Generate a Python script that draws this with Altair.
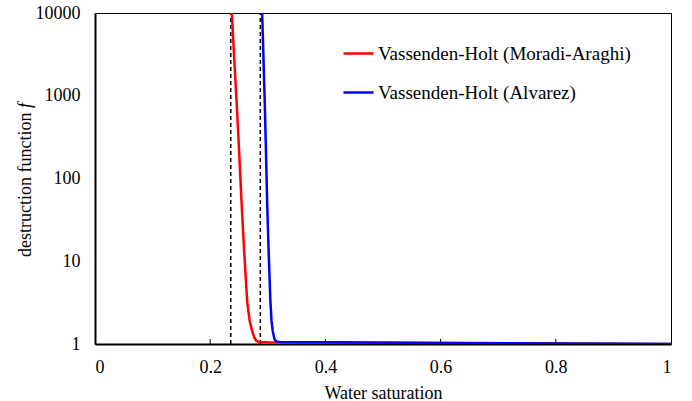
import altair as alt
import pandas as pd

# Red: Vassenden-Holt (Moradi-Araghi)
red_sw = [0.2375, 0.2415, 0.2457, 0.2500, 0.2543, 0.2590, 0.2642, 0.2685, 0.2728, 0.2765, 0.2803, 0.2850, 0.3000, 0.4, 0.6, 0.8, 1.0]
red_f = [10000, 3000, 881, 230, 54, 13, 3.3, 1.9, 1.44, 1.2, 1.09, 1.06, 1.05, 1.045, 1.03, 1.015, 1.0]
# Blue: Vassenden-Holt (Alvarez)
blue_sw = [0.2902, 0.2924, 0.2946, 0.2967, 0.2988, 0.3015, 0.3045, 0.3065, 0.3085, 0.3115, 0.3150, 0.3200, 0.4, 0.6, 0.8, 1.0]
blue_f = [10000, 3000, 881, 230, 54, 13, 3.3, 1.9, 1.44, 1.15, 1.07, 1.06, 1.05, 1.03, 1.015, 1.0]

series_names = ["Vassenden-Holt (Moradi-Araghi)", "Vassenden-Holt (Alvarez)"]
series_colors = ["#ff0000", "#0000ff"]

dashed_sw = [0.2357, 0.287]
x_ticks = [0, 0.2, 0.4, 0.6, 0.8, 1.0]
inner_ticks = [0.2, 0.4, 0.6, 0.8]
y_ticks = [1, 10, 100, 1000, 10000]

y_title_main = "destruction function"
y_title_var = "f"

rows = []
for s, f in zip(red_sw, red_f):
    rows.append({"sw": s, "f": f, "series": series_names[0], "o": len(rows)})
for s, f in zip(blue_sw, blue_f):
    rows.append({"sw": s, "f": f, "series": series_names[1], "o": len(rows)})
df = pd.DataFrame(rows)

dash_df = pd.DataFrame({"sw": dashed_sw, "f1": [1] * len(dashed_sw), "f2": [10000] * len(dashed_sw)})
tick_df = pd.DataFrame({"sw": inner_ticks, "f1": [1] * len(inner_ticks), "f2": [1.15] * len(inner_ticks)})

FONT = "Liberation Serif"

xscale = alt.Scale(domain=[0, 1], nice=False, zero=False)
yscale = alt.Scale(type="log", domain=[1, 10000], nice=False)

lines = alt.Chart(df).mark_line(strokeWidth=2.5, clip=True).encode(
    x=alt.X("sw:Q", scale=xscale,
            axis=alt.Axis(title="Water saturation", values=x_ticks, format="~g",
                          ticks=False, grid=False, labelPadding=14, titlePadding=8,
                          labelFont=FONT, titleFont=FONT,
                          domainWidth=2, domainColor="#000")),
    y=alt.Y("f:Q", scale=yscale,
            axis=alt.Axis(title=None, values=y_ticks, format="d",
                          ticks=False, grid=False, labelPadding=15,
                          labelFont=FONT,
                          domainWidth=2, domainColor="#000")),
    color=alt.Color("series:N", scale=alt.Scale(domain=series_names, range=series_colors),
                    legend=alt.Legend(title=None, orient="none", legendX=247, legendY=24,
                                      symbolType="stroke", symbolSize=900, symbolStrokeWidth=2.5,
                                      labelFontSize=19, labelFont=FONT, rowPadding=12,
                                      labelOffset=3, labelLimit=400)),
    order="o:Q",
)

dashes = alt.Chart(dash_df).mark_rule(color="#000", strokeWidth=1.5, strokeDash=[4, 3]).encode(
    x="sw:Q", y="f1:Q", y2="f2:Q"
)

ticks = alt.Chart(tick_df).mark_rule(color="#000", strokeWidth=1).encode(
    x="sw:Q", y="f1:Q", y2="f2:Q"
)

title_main = alt.Chart(pd.DataFrame({"t": [y_title_main]})).mark_text(
    angle=270, align="left", baseline="alphabetic", font=FONT, fontSize=18, color="#000"
).encode(text="t:N", x=alt.value(-64), y=alt.value(244))

title_var = alt.Chart(pd.DataFrame({"t": [y_title_var]})).mark_text(
    angle=270, align="left", baseline="alphabetic", font=FONT, fontSize=18,
    fontStyle="italic", color="#000"
).encode(text="t:N", x=alt.value(-64), y=alt.value(95))

chart = alt.layer(dashes, ticks, lines, title_main, title_var).properties(
    width=576, height=331,
    autosize=alt.AutoSizeParams(type="none"),
    padding={"left": 95, "top": 13, "right": 21, "bottom": 57},
).configure(
    font=FONT
).configure_view(
    stroke="#000", strokeWidth=1
).configure_axis(
    labelFont=FONT, titleFont=FONT, labelFontSize=18, titleFontSize=18,
    labelColor="#000", titleColor="#000", titleFontWeight="normal",
).configure_legend(
    labelFont=FONT, labelColor="#000"
)

chart.save("out.html", embed_options={"renderer": "svg", "actions": False})
